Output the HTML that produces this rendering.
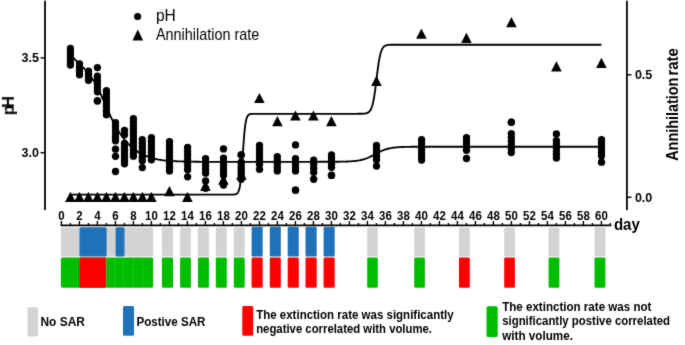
<!DOCTYPE html>
<html><head><meta charset="utf-8"><style>
html,body{margin:0;padding:0;background:#fff;width:685px;height:345px;overflow:hidden}
svg{display:block;will-change:transform}
</style></head><body>
<svg width="685" height="345" viewBox="0 0 685 345">
<defs><filter id="soft" color-interpolation-filters="sRGB" filterUnits="userSpaceOnUse" x="0" y="0" width="685" height="345"><feConvolveMatrix order="3" kernelMatrix="0.01134 0.08382 0.01134 0.08382 0.61935 0.08382 0.01134 0.08382 0.01134" divisor="1" edgeMode="duplicate" preserveAlpha="true"/></filter></defs>
<g filter="url(#soft)">
<rect x="0" y="0" width="685" height="345" fill="#fff"/>
<g stroke="#000" fill="none">
<line x1="45" y1="0.8" x2="45" y2="210" stroke-width="1.8"/>
<line x1="626.9" y1="0.8" x2="626.9" y2="209.9" stroke-width="1.8"/>
<line x1="40.5" y1="57.9" x2="45" y2="57.9" stroke-width="1.4"/>
<line x1="40.5" y1="152.7" x2="45" y2="152.7" stroke-width="1.4"/>
<line x1="627" y1="74.8" x2="631.5" y2="74.8" stroke-width="1.4"/>
<line x1="627" y1="197.3" x2="631.5" y2="197.3" stroke-width="1.4"/>
<line x1="60.6" y1="225.4" x2="611.2" y2="225.4" stroke-width="1.7"/>
<line x1="61.40" y1="221.0" x2="61.40" y2="225.5" stroke-width="1.4"/>
<line x1="70.40" y1="223.0" x2="70.40" y2="225.5" stroke-width="1.4"/>
<line x1="79.40" y1="221.0" x2="79.40" y2="225.5" stroke-width="1.4"/>
<line x1="88.40" y1="223.0" x2="88.40" y2="225.5" stroke-width="1.4"/>
<line x1="97.40" y1="221.0" x2="97.40" y2="225.5" stroke-width="1.4"/>
<line x1="106.40" y1="223.0" x2="106.40" y2="225.5" stroke-width="1.4"/>
<line x1="115.40" y1="221.0" x2="115.40" y2="225.5" stroke-width="1.4"/>
<line x1="124.40" y1="223.0" x2="124.40" y2="225.5" stroke-width="1.4"/>
<line x1="133.40" y1="221.0" x2="133.40" y2="225.5" stroke-width="1.4"/>
<line x1="142.40" y1="223.0" x2="142.40" y2="225.5" stroke-width="1.4"/>
<line x1="151.40" y1="221.0" x2="151.40" y2="225.5" stroke-width="1.4"/>
<line x1="160.40" y1="223.0" x2="160.40" y2="225.5" stroke-width="1.4"/>
<line x1="169.40" y1="221.0" x2="169.40" y2="225.5" stroke-width="1.4"/>
<line x1="178.40" y1="223.0" x2="178.40" y2="225.5" stroke-width="1.4"/>
<line x1="187.40" y1="221.0" x2="187.40" y2="225.5" stroke-width="1.4"/>
<line x1="196.40" y1="223.0" x2="196.40" y2="225.5" stroke-width="1.4"/>
<line x1="205.40" y1="221.0" x2="205.40" y2="225.5" stroke-width="1.4"/>
<line x1="214.40" y1="223.0" x2="214.40" y2="225.5" stroke-width="1.4"/>
<line x1="223.40" y1="221.0" x2="223.40" y2="225.5" stroke-width="1.4"/>
<line x1="232.40" y1="223.0" x2="232.40" y2="225.5" stroke-width="1.4"/>
<line x1="241.40" y1="221.0" x2="241.40" y2="225.5" stroke-width="1.4"/>
<line x1="250.40" y1="223.0" x2="250.40" y2="225.5" stroke-width="1.4"/>
<line x1="259.40" y1="221.0" x2="259.40" y2="225.5" stroke-width="1.4"/>
<line x1="268.40" y1="223.0" x2="268.40" y2="225.5" stroke-width="1.4"/>
<line x1="277.40" y1="221.0" x2="277.40" y2="225.5" stroke-width="1.4"/>
<line x1="286.40" y1="223.0" x2="286.40" y2="225.5" stroke-width="1.4"/>
<line x1="295.40" y1="221.0" x2="295.40" y2="225.5" stroke-width="1.4"/>
<line x1="304.40" y1="223.0" x2="304.40" y2="225.5" stroke-width="1.4"/>
<line x1="313.40" y1="221.0" x2="313.40" y2="225.5" stroke-width="1.4"/>
<line x1="322.40" y1="223.0" x2="322.40" y2="225.5" stroke-width="1.4"/>
<line x1="331.40" y1="221.0" x2="331.40" y2="225.5" stroke-width="1.4"/>
<line x1="340.40" y1="223.0" x2="340.40" y2="225.5" stroke-width="1.4"/>
<line x1="349.40" y1="221.0" x2="349.40" y2="225.5" stroke-width="1.4"/>
<line x1="358.40" y1="223.0" x2="358.40" y2="225.5" stroke-width="1.4"/>
<line x1="367.40" y1="221.0" x2="367.40" y2="225.5" stroke-width="1.4"/>
<line x1="376.40" y1="223.0" x2="376.40" y2="225.5" stroke-width="1.4"/>
<line x1="385.40" y1="221.0" x2="385.40" y2="225.5" stroke-width="1.4"/>
<line x1="394.40" y1="223.0" x2="394.40" y2="225.5" stroke-width="1.4"/>
<line x1="403.40" y1="221.0" x2="403.40" y2="225.5" stroke-width="1.4"/>
<line x1="412.40" y1="223.0" x2="412.40" y2="225.5" stroke-width="1.4"/>
<line x1="421.40" y1="221.0" x2="421.40" y2="225.5" stroke-width="1.4"/>
<line x1="430.40" y1="223.0" x2="430.40" y2="225.5" stroke-width="1.4"/>
<line x1="439.40" y1="221.0" x2="439.40" y2="225.5" stroke-width="1.4"/>
<line x1="448.40" y1="223.0" x2="448.40" y2="225.5" stroke-width="1.4"/>
<line x1="457.40" y1="221.0" x2="457.40" y2="225.5" stroke-width="1.4"/>
<line x1="466.40" y1="223.0" x2="466.40" y2="225.5" stroke-width="1.4"/>
<line x1="475.40" y1="221.0" x2="475.40" y2="225.5" stroke-width="1.4"/>
<line x1="484.40" y1="223.0" x2="484.40" y2="225.5" stroke-width="1.4"/>
<line x1="493.40" y1="221.0" x2="493.40" y2="225.5" stroke-width="1.4"/>
<line x1="502.40" y1="223.0" x2="502.40" y2="225.5" stroke-width="1.4"/>
<line x1="511.40" y1="221.0" x2="511.40" y2="225.5" stroke-width="1.4"/>
<line x1="520.40" y1="223.0" x2="520.40" y2="225.5" stroke-width="1.4"/>
<line x1="529.40" y1="221.0" x2="529.40" y2="225.5" stroke-width="1.4"/>
<line x1="538.40" y1="223.0" x2="538.40" y2="225.5" stroke-width="1.4"/>
<line x1="547.40" y1="221.0" x2="547.40" y2="225.5" stroke-width="1.4"/>
<line x1="556.40" y1="223.0" x2="556.40" y2="225.5" stroke-width="1.4"/>
<line x1="565.40" y1="221.0" x2="565.40" y2="225.5" stroke-width="1.4"/>
<line x1="574.40" y1="223.0" x2="574.40" y2="225.5" stroke-width="1.4"/>
<line x1="583.40" y1="221.0" x2="583.40" y2="225.5" stroke-width="1.4"/>
<line x1="592.40" y1="223.0" x2="592.40" y2="225.5" stroke-width="1.4"/>
<line x1="601.40" y1="221.0" x2="601.40" y2="225.5" stroke-width="1.4"/>
<line x1="610.40" y1="223.0" x2="610.40" y2="225.5" stroke-width="1.4"/>
</g>
<path d="M70.40,53.00 L70.53,53.29 L70.62,53.61 L70.73,53.98 L70.89,54.44 L71.15,54.99 L71.56,55.67 L72.16,56.50 L73.00,57.50 L74.15,58.72 L75.61,60.16 L77.29,61.77 L79.10,63.50 L80.96,65.29 L82.79,67.09 L84.50,68.84 L86.00,70.50 L87.33,72.08 L88.58,73.62 L89.76,75.16 L90.88,76.69 L91.95,78.22 L92.98,79.78 L94.00,81.37 L95.00,83.00 L95.97,84.66 L96.89,86.35 L97.77,88.05 L98.62,89.78 L99.46,91.54 L100.29,93.32 L101.13,95.14 L102.00,97.00 L102.91,98.97 L103.87,101.09 L104.84,103.28 L105.81,105.48 L106.74,107.62 L107.62,109.64 L108.41,111.45 L109.10,113.00 L109.63,114.21 L110.02,115.11 L110.31,115.79 L110.55,116.36 L110.79,116.90 L111.08,117.50 L111.47,118.27 L112.00,119.30 L112.68,120.60 L113.46,122.08 L114.32,123.69 L115.24,125.39 L116.19,127.12 L117.17,128.83 L118.15,130.47 L119.10,132.00 L120.04,133.43 L120.98,134.83 L121.93,136.19 L122.90,137.51 L123.89,138.81 L124.89,140.07 L125.93,141.30 L127.00,142.50 L128.09,143.68 L129.19,144.82 L130.32,145.94 L131.47,147.03 L132.65,148.08 L133.88,149.10 L135.16,150.07 L136.50,151.00 L137.92,151.89 L139.43,152.75 L140.99,153.57 L142.60,154.36 L144.22,155.09 L145.82,155.78 L147.39,156.42 L148.90,157.00 L150.36,157.51 L151.79,157.96 L153.21,158.36 L154.60,158.71 L155.98,159.02 L157.33,159.29 L158.67,159.55 L160.00,159.80 L161.28,160.02 L162.50,160.21 L163.68,160.36 L164.85,160.49 L166.04,160.60 L167.28,160.70 L168.59,160.80 L170.00,160.90 L171.50,161.00 L173.06,161.09 L174.67,161.17 L176.34,161.25 L178.06,161.32 L179.83,161.38 L181.65,161.44 L183.50,161.50 L185.53,161.55 L187.80,161.60 L190.19,161.65 L192.59,161.69 L194.89,161.72 L196.96,161.75 L198.71,161.78 L200.00,161.80 L201.00,161.80 L202.00,161.80 L203.00,161.80 L204.00,161.80 L205.00,161.80 L206.00,161.80 L207.00,161.80 L208.00,161.80 L209.00,161.80 L210.00,161.80 L211.00,161.80 L212.00,161.80 L213.00,161.80 L214.00,161.80 L215.00,161.80 L216.00,161.80 L217.00,161.80 L218.00,161.80 L219.00,161.80 L220.00,161.80 L221.00,161.80 L222.00,161.80 L223.00,161.80 L224.00,161.80 L225.00,161.80 L226.00,161.80 L227.00,161.80 L228.00,161.80 L229.00,161.80 L230.00,161.80 L231.00,161.80 L232.00,161.80 L233.00,161.80 L234.00,161.80 L235.00,161.80 L236.00,161.80 L237.00,161.80 L238.00,161.80 L239.00,161.80 L240.00,161.80 L241.00,161.80 L242.00,161.80 L243.00,161.80 L244.00,161.80 L245.00,161.80 L246.00,161.80 L247.00,161.80 L248.00,161.80 L249.00,161.80 L250.00,161.80 L251.00,161.80 L252.00,161.80 L253.00,161.80 L254.00,161.80 L255.00,161.80 L256.00,161.80 L257.00,161.80 L258.00,161.80 L259.00,161.80 L260.00,161.80 L261.00,161.80 L262.00,161.80 L263.00,161.80 L264.00,161.80 L265.00,161.80 L266.00,161.80 L267.00,161.80 L268.00,161.80 L269.00,161.80 L270.00,161.80 L271.00,161.80 L272.00,161.80 L273.00,161.80 L274.00,161.80 L275.00,161.80 L276.00,161.80 L277.00,161.80 L278.00,161.80 L279.00,161.80 L280.00,161.80 L281.00,161.80 L282.00,161.80 L283.00,161.80 L284.00,161.80 L285.00,161.80 L286.00,161.80 L287.00,161.80 L288.00,161.80 L289.00,161.80 L290.00,161.80 L291.00,161.80 L292.00,161.80 L293.00,161.80 L294.00,161.80 L295.00,161.80 L296.00,161.80 L297.00,161.80 L298.00,161.80 L299.00,161.80 L300.00,161.80 L301.00,161.80 L302.00,161.80 L303.00,161.80 L304.00,161.80 L305.00,161.80 L306.00,161.80 L307.00,161.80 L308.00,161.80 L309.00,161.80 L310.00,161.80 L311.00,161.80 L312.00,161.80 L313.00,161.80 L314.00,161.80 L315.00,161.80 L316.00,161.80 L317.00,161.80 L318.00,161.80 L319.00,161.79 L320.00,161.79 L321.00,161.79 L322.00,161.79 L323.00,161.79 L324.00,161.79 L325.00,161.79 L326.00,161.79 L327.00,161.78 L328.00,161.78 L329.00,161.78 L330.00,161.78 L331.00,161.77 L332.00,161.77 L333.00,161.76 L334.00,161.76 L335.00,161.75 L336.00,161.74 L337.00,161.73 L338.00,161.72 L339.00,161.71 L340.00,161.70 L341.00,161.68 L342.00,161.67 L343.00,161.65 L344.00,161.62 L345.00,161.59 L346.00,161.56 L347.00,161.53 L348.00,161.49 L349.00,161.44 L350.00,161.39 L351.00,161.33 L352.00,161.26 L353.00,161.18 L354.00,161.08 L355.00,160.98 L356.00,160.86 L357.00,160.73 L358.00,160.58 L359.00,160.41 L360.00,160.21 L361.00,160.00 L362.00,159.76 L363.00,159.50 L364.00,159.20 L365.00,158.88 L366.00,158.53 L367.00,158.15 L368.00,157.74 L369.00,157.30 L370.00,156.84 L371.00,156.35 L372.00,155.84 L373.00,155.32 L374.00,154.79 L375.00,154.25 L376.00,153.71 L377.00,153.18 L378.00,152.66 L379.00,152.15 L380.00,151.66 L381.00,151.20 L382.00,150.76 L383.00,150.35 L384.00,149.97 L385.00,149.62 L386.00,149.30 L387.00,149.00 L388.00,148.74 L389.00,148.50 L390.00,148.29 L391.00,148.09 L392.00,147.92 L393.00,147.77 L394.00,147.64 L395.00,147.52 L396.00,147.42 L397.00,147.32 L398.00,147.24 L399.00,147.17 L400.00,147.11 L401.00,147.06 L402.00,147.01 L403.00,146.97 L404.00,146.94 L405.00,146.91 L406.00,146.88 L407.00,146.85 L408.00,146.83 L409.00,146.82 L410.00,146.80 L411.00,146.79 L412.00,146.78 L413.00,146.77 L414.00,146.76 L415.00,146.75 L416.00,146.74 L417.00,146.74 L418.00,146.73 L419.00,146.73 L420.00,146.72 L421.00,146.72 L422.00,146.72 L423.00,146.72 L424.00,146.71 L425.00,146.71 L426.00,146.71 L427.00,146.71 L428.00,146.71 L429.00,146.71 L430.00,146.71 L431.00,146.71 L432.00,146.70 L433.00,146.70 L434.00,146.70 L435.00,146.70 L436.00,146.70 L437.00,146.70 L438.00,146.70 L439.00,146.70 L440.00,146.70 L441.00,146.70 L442.00,146.70 L443.00,146.70 L444.00,146.70 L445.00,146.70 L446.00,146.70 L447.00,146.70 L448.00,146.70 L449.00,146.70 L450.00,146.70 L451.00,146.70 L452.00,146.70 L453.00,146.70 L454.00,146.70 L455.00,146.70 L456.00,146.70 L457.00,146.70 L458.00,146.70 L459.00,146.70 L460.00,146.70 L461.00,146.70 L462.00,146.70 L463.00,146.70 L464.00,146.70 L465.00,146.70 L466.00,146.70 L467.00,146.70 L468.00,146.70 L469.00,146.70 L470.00,146.70 L471.00,146.70 L472.00,146.70 L473.00,146.70 L474.00,146.70 L475.00,146.70 L476.00,146.70 L477.00,146.70 L478.00,146.70 L479.00,146.70 L480.00,146.70 L481.00,146.70 L482.00,146.70 L483.00,146.70 L484.00,146.70 L485.00,146.70 L486.00,146.70 L487.00,146.70 L488.00,146.70 L489.00,146.70 L490.00,146.70 L491.00,146.70 L492.00,146.70 L493.00,146.70 L494.00,146.70 L495.00,146.70 L496.00,146.70 L497.00,146.70 L498.00,146.70 L499.00,146.70 L500.00,146.70 L501.00,146.70 L502.00,146.70 L503.00,146.70 L504.00,146.70 L505.00,146.70 L506.00,146.70 L507.00,146.70 L508.00,146.70 L509.00,146.70 L510.00,146.70 L511.00,146.70 L512.00,146.70 L513.00,146.70 L514.00,146.70 L515.00,146.70 L516.00,146.70 L517.00,146.70 L518.00,146.70 L519.00,146.70 L520.00,146.70 L521.00,146.70 L522.00,146.70 L523.00,146.70 L524.00,146.70 L525.00,146.70 L526.00,146.70 L527.00,146.70 L528.00,146.70 L529.00,146.70 L530.00,146.70 L531.00,146.70 L532.00,146.70 L533.00,146.70 L534.00,146.70 L535.00,146.70 L536.00,146.70 L537.00,146.70 L538.00,146.70 L539.00,146.70 L540.00,146.70 L541.00,146.70 L542.00,146.70 L543.00,146.70 L544.00,146.70 L545.00,146.70 L546.00,146.70 L547.00,146.70 L548.00,146.70 L549.00,146.70 L550.00,146.70 L551.00,146.70 L552.00,146.70 L553.00,146.70 L554.00,146.70 L555.00,146.70 L556.00,146.70 L557.00,146.70 L558.00,146.70 L559.00,146.70 L560.00,146.70 L561.00,146.70 L562.00,146.70 L563.00,146.70 L564.00,146.70 L565.00,146.70 L566.00,146.70 L567.00,146.70 L568.00,146.70 L569.00,146.70 L570.00,146.70 L571.00,146.70 L572.00,146.70 L573.00,146.70 L574.00,146.70 L575.00,146.70 L576.00,146.70 L577.00,146.70 L578.00,146.70 L579.00,146.70 L580.00,146.70 L581.00,146.70 L582.00,146.70 L583.00,146.70 L584.00,146.70 L585.00,146.70 L586.00,146.70 L587.00,146.70 L588.00,146.70 L589.00,146.70 L590.00,146.70 L591.00,146.70 L592.00,146.70 L593.00,146.70 L594.00,146.70 L595.00,146.70 L596.00,146.70 L597.00,146.70 L598.00,146.70 L599.00,146.70 L600.00,146.70 L601.00,146.70 L601.40,146.70" stroke="#000" stroke-width="1.85" fill="none" stroke-linejoin="round"/>
<path d="M70.40,194.60 L72.40,194.60 L74.40,194.60 L76.40,194.60 L78.40,194.60 L80.40,194.60 L82.40,194.60 L84.40,194.60 L86.40,194.60 L88.40,194.60 L90.40,194.60 L92.40,194.60 L94.40,194.60 L96.40,194.60 L98.40,194.60 L100.40,194.60 L102.40,194.60 L104.40,194.60 L106.40,194.60 L108.40,194.60 L110.40,194.60 L112.40,194.60 L114.40,194.60 L116.40,194.60 L118.40,194.60 L120.40,194.60 L122.40,194.60 L124.40,194.60 L126.40,194.60 L128.40,194.60 L130.40,194.60 L132.40,194.60 L134.40,194.60 L136.40,194.60 L138.40,194.60 L140.40,194.60 L142.40,194.60 L144.40,194.60 L146.40,194.60 L148.40,194.60 L150.40,194.60 L152.40,194.60 L154.40,194.60 L156.40,194.60 L158.40,194.60 L160.40,194.60 L162.40,194.60 L164.40,194.60 L166.40,194.60 L168.40,194.60 L170.40,194.60 L172.40,194.60 L174.40,194.60 L176.40,194.60 L178.40,194.60 L180.40,194.60 L182.40,194.60 L184.40,194.60 L186.40,194.60 L188.40,194.60 L190.40,194.60 L192.40,194.60 L194.40,194.60 L196.40,194.60 L198.40,194.60 L200.40,194.60 L202.40,194.60 L204.40,194.60 L206.40,194.60 L208.40,194.60 L210.40,194.60 L212.40,194.60 L214.40,194.60 L216.40,194.60 L218.40,194.60 L220.40,194.60 L222.40,194.60 L224.40,194.60 L226.40,194.60 L228.40,194.60 L230.40,194.59 L230.90,194.59 L231.40,194.58 L231.90,194.57 L232.40,194.56 L232.90,194.55 L233.40,194.52 L233.90,194.49 L234.40,194.44 L234.90,194.37 L235.40,194.27 L235.90,194.12 L236.40,193.90 L236.90,193.59 L237.40,193.15 L237.90,192.51 L238.40,191.61 L238.90,190.34 L239.40,188.57 L239.90,186.16 L240.40,182.92 L240.90,178.71 L241.40,173.45 L241.90,167.19 L242.40,160.14 L242.90,152.70 L243.40,145.37 L243.90,138.59 L244.40,132.72 L244.90,127.88 L245.40,124.08 L245.90,121.19 L246.40,119.05 L246.90,117.50 L247.40,116.39 L247.90,115.61 L248.40,115.06 L248.90,114.67 L249.40,114.40 L249.90,114.22 L250.40,114.09 L250.90,114.00 L251.40,113.94 L251.90,113.90 L252.40,113.87 L252.90,113.85 L253.40,113.83 L253.90,113.82 L254.40,113.81 L254.90,113.81 L255.40,113.81 L255.90,113.80 L256.40,113.80 L256.90,113.80 L257.40,113.80 L257.90,113.80 L258.40,113.80 L258.90,113.80 L259.40,113.80 L259.90,113.80 L260.40,113.80 L262.40,113.80 L264.40,113.80 L266.40,113.80 L268.40,113.80 L270.40,113.80 L272.40,113.80 L274.40,113.80 L276.40,113.80 L278.40,113.80 L280.40,113.80 L282.40,113.80 L284.40,113.80 L286.40,113.80 L288.40,113.80 L290.40,113.80 L292.40,113.80 L294.40,113.80 L296.40,113.80 L298.40,113.80 L300.40,113.80 L302.40,113.80 L304.40,113.80 L306.40,113.80 L308.40,113.80 L310.40,113.80 L312.40,113.80 L314.40,113.80 L316.40,113.80 L318.40,113.80 L320.40,113.80 L322.40,113.80 L324.40,113.80 L326.40,113.80 L328.40,113.80 L330.40,113.80 L332.40,113.80 L334.40,113.80 L336.40,113.80 L338.40,113.80 L340.40,113.80 L342.40,113.80 L344.40,113.80 L346.40,113.80 L348.40,113.80 L350.40,113.80 L352.40,113.80 L354.40,113.80 L356.40,113.80 L358.40,113.79 L360.40,113.77 L360.90,113.76 L361.40,113.75 L361.90,113.73 L362.40,113.72 L362.90,113.69 L363.40,113.67 L363.90,113.63 L364.40,113.58 L364.90,113.53 L365.40,113.45 L365.90,113.36 L366.40,113.24 L366.90,113.09 L367.40,112.90 L367.90,112.67 L368.40,112.37 L368.90,112.00 L369.40,111.53 L369.90,110.94 L370.40,110.21 L370.90,109.31 L371.40,108.20 L371.90,106.85 L372.40,105.21 L372.90,103.25 L373.40,100.95 L373.90,98.27 L374.40,95.22 L374.90,91.81 L375.40,88.10 L375.90,84.15 L376.40,80.07 L376.90,75.97 L377.40,71.96 L377.90,68.14 L378.40,64.61 L378.90,61.41 L379.40,58.58 L379.90,56.12 L380.40,54.03 L380.90,52.27 L381.40,50.81 L381.90,49.61 L382.40,48.63 L382.90,47.83 L383.40,47.19 L383.90,46.68 L384.40,46.27 L384.90,45.94 L385.40,45.68 L385.90,45.48 L386.40,45.31 L386.90,45.18 L387.40,45.08 L387.90,45.00 L388.40,44.94 L388.90,44.89 L389.40,44.85 L389.90,44.82 L390.40,44.79 L390.90,44.77 L391.40,44.76 L391.90,44.75 L392.40,44.74 L392.90,44.73 L393.40,44.72 L393.90,44.72 L394.40,44.71 L394.90,44.71 L395.40,44.71 L395.90,44.71 L396.40,44.71 L396.90,44.70 L397.40,44.70 L397.90,44.70 L398.40,44.70 L398.90,44.70 L399.40,44.70 L399.90,44.70 L400.40,44.70 L402.40,44.70 L404.40,44.70 L406.40,44.70 L408.40,44.70 L410.40,44.70 L412.40,44.70 L414.40,44.70 L416.40,44.70 L418.40,44.70 L420.40,44.70 L422.40,44.70 L424.40,44.70 L426.40,44.70 L428.40,44.70 L430.40,44.70 L432.40,44.70 L434.40,44.70 L436.40,44.70 L438.40,44.70 L440.40,44.70 L442.40,44.70 L444.40,44.70 L446.40,44.70 L448.40,44.70 L450.40,44.70 L452.40,44.70 L454.40,44.70 L456.40,44.70 L458.40,44.70 L460.40,44.70 L462.40,44.70 L464.40,44.70 L466.40,44.70 L468.40,44.70 L470.40,44.70 L472.40,44.70 L474.40,44.70 L476.40,44.70 L478.40,44.70 L480.40,44.70 L482.40,44.70 L484.40,44.70 L486.40,44.70 L488.40,44.70 L490.40,44.70 L492.40,44.70 L494.40,44.70 L496.40,44.70 L498.40,44.70 L500.40,44.70 L502.40,44.70 L504.40,44.70 L506.40,44.70 L508.40,44.70 L510.40,44.70 L512.40,44.70 L514.40,44.70 L516.40,44.70 L518.40,44.70 L520.40,44.70 L522.40,44.70 L524.40,44.70 L526.40,44.70 L528.40,44.70 L530.40,44.70 L532.40,44.70 L534.40,44.70 L536.40,44.70 L538.40,44.70 L540.40,44.70 L542.40,44.70 L544.40,44.70 L546.40,44.70 L548.40,44.70 L550.40,44.70 L552.40,44.70 L554.40,44.70 L556.40,44.70 L558.40,44.70 L560.40,44.70 L562.40,44.70 L564.40,44.70 L566.40,44.70 L568.40,44.70 L570.40,44.70 L572.40,44.70 L574.40,44.70 L576.40,44.70 L578.40,44.70 L580.40,44.70 L582.40,44.70 L584.40,44.70 L586.40,44.70 L588.40,44.70 L590.40,44.70 L592.40,44.70 L594.40,44.70 L596.40,44.70 L598.40,44.70 L600.40,44.70 L601.40,44.70" stroke="#000" stroke-width="1.85" fill="none" stroke-linejoin="round"/>
<g fill="#000">
<path d="M70.40,191.75 L75.70,201.95 L65.10,201.95Z"/>
<path d="M79.40,191.75 L84.70,201.95 L74.10,201.95Z"/>
<path d="M88.40,191.75 L93.70,201.95 L83.10,201.95Z"/>
<path d="M97.40,191.75 L102.70,201.95 L92.10,201.95Z"/>
<path d="M106.40,191.75 L111.70,201.95 L101.10,201.95Z"/>
<path d="M115.40,191.75 L120.70,201.95 L110.10,201.95Z"/>
<path d="M124.40,191.75 L129.70,201.95 L119.10,201.95Z"/>
<path d="M133.40,191.75 L138.70,201.95 L128.10,201.95Z"/>
<path d="M142.40,191.75 L147.70,201.95 L137.10,201.95Z"/>
<path d="M151.40,191.75 L156.70,201.95 L146.10,201.95Z"/>
<path d="M169.40,186.00 L174.70,196.20 L164.10,196.20Z"/>
<path d="M187.40,191.85 L192.70,202.05 L182.10,202.05Z"/>
<path d="M205.40,180.85 L210.70,191.05 L200.10,191.05Z"/>
<path d="M223.40,174.55 L228.70,184.75 L218.10,184.75Z"/>
<path d="M241.40,169.60 L246.70,179.80 L236.10,179.80Z"/>
<path d="M259.40,92.90 L264.70,103.10 L254.10,103.10Z"/>
<path d="M277.40,116.10 L282.70,126.30 L272.10,126.30Z"/>
<path d="M295.40,110.40 L300.70,120.60 L290.10,120.60Z"/>
<path d="M313.40,110.40 L318.70,120.60 L308.10,120.60Z"/>
<path d="M331.40,116.10 L336.70,126.30 L326.10,126.30Z"/>
<path d="M376.40,75.80 L381.70,86.00 L371.10,86.00Z"/>
<path d="M421.40,28.60 L426.70,38.80 L416.10,38.80Z"/>
<path d="M466.40,32.80 L471.70,43.00 L461.10,43.00Z"/>
<path d="M511.40,17.10 L516.70,27.30 L506.10,27.30Z"/>
<path d="M556.40,61.30 L561.70,71.50 L551.10,71.50Z"/>
<path d="M601.40,57.70 L606.70,67.90 L596.10,67.90Z"/>
</g>
<g fill="#000">
<circle cx="70.40" cy="48.45" r="3.65"/>
<circle cx="70.40" cy="51.77" r="3.65"/>
<circle cx="70.40" cy="55.09" r="3.65"/>
<circle cx="70.40" cy="58.41" r="3.65"/>
<circle cx="70.40" cy="61.73" r="3.65"/>
<circle cx="70.40" cy="65.05" r="3.65"/>
<circle cx="79.50" cy="63.85" r="3.65"/>
<circle cx="79.50" cy="67.52" r="3.65"/>
<circle cx="79.50" cy="71.18" r="3.65"/>
<circle cx="79.50" cy="74.85" r="3.65"/>
<circle cx="88.50" cy="71.15" r="3.65"/>
<circle cx="88.50" cy="74.22" r="3.65"/>
<circle cx="88.50" cy="77.28" r="3.65"/>
<circle cx="88.50" cy="80.35" r="3.65"/>
<circle cx="97.40" cy="67.60" r="3.65"/>
<circle cx="97.40" cy="76.25" r="3.65"/>
<circle cx="97.40" cy="80.15" r="3.65"/>
<circle cx="97.40" cy="84.05" r="3.65"/>
<circle cx="97.40" cy="87.95" r="3.65"/>
<circle cx="97.40" cy="91.85" r="3.65"/>
<circle cx="97.40" cy="100.85" r="3.65"/>
<circle cx="97.40" cy="100.95" r="3.65"/>
<circle cx="106.40" cy="90.65" r="3.65"/>
<circle cx="106.40" cy="94.08" r="3.65"/>
<circle cx="106.40" cy="97.51" r="3.65"/>
<circle cx="106.40" cy="100.94" r="3.65"/>
<circle cx="106.40" cy="104.36" r="3.65"/>
<circle cx="106.40" cy="107.79" r="3.65"/>
<circle cx="106.40" cy="111.22" r="3.65"/>
<circle cx="106.40" cy="114.65" r="3.65"/>
<circle cx="115.50" cy="122.75" r="3.65"/>
<circle cx="115.50" cy="126.35" r="3.65"/>
<circle cx="115.50" cy="129.95" r="3.65"/>
<circle cx="115.50" cy="133.55" r="3.65"/>
<circle cx="115.50" cy="137.15" r="3.65"/>
<circle cx="115.50" cy="140.75" r="3.65"/>
<circle cx="115.50" cy="149.20" r="3.65"/>
<circle cx="115.50" cy="156.30" r="3.65"/>
<circle cx="115.50" cy="171.50" r="3.65"/>
<circle cx="124.50" cy="130.35" r="3.65"/>
<circle cx="124.50" cy="134.65" r="3.65"/>
<circle cx="124.50" cy="143.45" r="3.65"/>
<circle cx="124.50" cy="146.83" r="3.65"/>
<circle cx="124.50" cy="150.22" r="3.65"/>
<circle cx="124.50" cy="153.60" r="3.65"/>
<circle cx="124.50" cy="156.98" r="3.65"/>
<circle cx="124.50" cy="160.37" r="3.65"/>
<circle cx="124.50" cy="163.75" r="3.65"/>
<circle cx="133.40" cy="118.65" r="3.65"/>
<circle cx="133.40" cy="122.06" r="3.65"/>
<circle cx="133.40" cy="125.47" r="3.65"/>
<circle cx="133.40" cy="128.88" r="3.65"/>
<circle cx="133.40" cy="132.29" r="3.65"/>
<circle cx="133.40" cy="135.70" r="3.65"/>
<circle cx="133.40" cy="139.10" r="3.65"/>
<circle cx="133.40" cy="142.51" r="3.65"/>
<circle cx="133.40" cy="145.92" r="3.65"/>
<circle cx="133.40" cy="149.33" r="3.65"/>
<circle cx="133.40" cy="152.74" r="3.65"/>
<circle cx="133.40" cy="156.15" r="3.65"/>
<circle cx="142.30" cy="139.55" r="3.65"/>
<circle cx="142.30" cy="143.10" r="3.65"/>
<circle cx="142.30" cy="146.65" r="3.65"/>
<circle cx="142.30" cy="150.20" r="3.65"/>
<circle cx="142.30" cy="153.75" r="3.65"/>
<circle cx="142.30" cy="157.30" r="3.65"/>
<circle cx="142.30" cy="160.85" r="3.65"/>
<circle cx="142.30" cy="167.60" r="3.65"/>
<circle cx="151.40" cy="137.65" r="3.65"/>
<circle cx="151.40" cy="141.33" r="3.65"/>
<circle cx="151.40" cy="145.02" r="3.65"/>
<circle cx="151.40" cy="148.70" r="3.65"/>
<circle cx="151.40" cy="152.38" r="3.65"/>
<circle cx="151.40" cy="156.07" r="3.65"/>
<circle cx="151.40" cy="159.75" r="3.65"/>
<circle cx="169.50" cy="141.65" r="3.65"/>
<circle cx="169.50" cy="145.31" r="3.65"/>
<circle cx="169.50" cy="148.97" r="3.65"/>
<circle cx="169.50" cy="152.64" r="3.65"/>
<circle cx="169.50" cy="156.30" r="3.65"/>
<circle cx="169.50" cy="159.96" r="3.65"/>
<circle cx="169.50" cy="163.62" r="3.65"/>
<circle cx="169.50" cy="167.29" r="3.65"/>
<circle cx="169.50" cy="170.95" r="3.65"/>
<circle cx="187.60" cy="147.45" r="3.65"/>
<circle cx="187.60" cy="151.18" r="3.65"/>
<circle cx="187.60" cy="154.92" r="3.65"/>
<circle cx="187.60" cy="158.65" r="3.65"/>
<circle cx="187.60" cy="162.38" r="3.65"/>
<circle cx="187.60" cy="166.12" r="3.65"/>
<circle cx="187.60" cy="169.85" r="3.65"/>
<circle cx="187.60" cy="176.80" r="3.65"/>
<circle cx="205.60" cy="158.65" r="3.65"/>
<circle cx="205.60" cy="162.28" r="3.65"/>
<circle cx="205.60" cy="165.90" r="3.65"/>
<circle cx="205.60" cy="169.53" r="3.65"/>
<circle cx="205.60" cy="173.15" r="3.65"/>
<circle cx="205.60" cy="180.90" r="3.65"/>
<circle cx="205.60" cy="188.30" r="3.65"/>
<circle cx="223.50" cy="148.95" r="3.65"/>
<circle cx="223.50" cy="158.05" r="3.65"/>
<circle cx="223.50" cy="161.51" r="3.65"/>
<circle cx="223.50" cy="164.97" r="3.65"/>
<circle cx="223.50" cy="168.43" r="3.65"/>
<circle cx="223.50" cy="171.89" r="3.65"/>
<circle cx="223.50" cy="175.35" r="3.65"/>
<circle cx="223.50" cy="185.10" r="3.65"/>
<circle cx="241.20" cy="154.85" r="3.65"/>
<circle cx="241.20" cy="154.95" r="3.65"/>
<circle cx="241.20" cy="162.05" r="3.65"/>
<circle cx="241.20" cy="165.12" r="3.65"/>
<circle cx="241.20" cy="168.20" r="3.65"/>
<circle cx="241.20" cy="171.28" r="3.65"/>
<circle cx="241.20" cy="174.35" r="3.65"/>
<circle cx="241.20" cy="179.15" r="3.65"/>
<circle cx="259.50" cy="145.35" r="3.65"/>
<circle cx="259.50" cy="149.15" r="3.65"/>
<circle cx="259.50" cy="152.95" r="3.65"/>
<circle cx="259.50" cy="156.75" r="3.65"/>
<circle cx="259.50" cy="160.55" r="3.65"/>
<circle cx="259.50" cy="164.35" r="3.65"/>
<circle cx="259.50" cy="169.30" r="3.65"/>
<circle cx="277.30" cy="156.65" r="3.65"/>
<circle cx="277.30" cy="160.22" r="3.65"/>
<circle cx="277.30" cy="163.80" r="3.65"/>
<circle cx="277.30" cy="167.38" r="3.65"/>
<circle cx="277.30" cy="170.95" r="3.65"/>
<circle cx="295.50" cy="144.95" r="3.65"/>
<circle cx="295.50" cy="158.65" r="3.65"/>
<circle cx="295.50" cy="161.72" r="3.65"/>
<circle cx="295.50" cy="164.80" r="3.65"/>
<circle cx="295.50" cy="167.88" r="3.65"/>
<circle cx="295.50" cy="170.95" r="3.65"/>
<circle cx="295.50" cy="190.05" r="3.65"/>
<circle cx="295.50" cy="190.15" r="3.65"/>
<circle cx="313.70" cy="160.25" r="3.65"/>
<circle cx="313.70" cy="164.28" r="3.65"/>
<circle cx="313.70" cy="168.32" r="3.65"/>
<circle cx="313.70" cy="172.35" r="3.65"/>
<circle cx="313.70" cy="179.25" r="3.65"/>
<circle cx="331.50" cy="154.95" r="3.65"/>
<circle cx="331.50" cy="158.05" r="3.65"/>
<circle cx="331.50" cy="161.15" r="3.65"/>
<circle cx="331.50" cy="164.25" r="3.65"/>
<circle cx="331.50" cy="167.35" r="3.65"/>
<circle cx="331.50" cy="175.15" r="3.65"/>
<circle cx="331.50" cy="175.45" r="3.65"/>
<circle cx="376.50" cy="145.35" r="3.65"/>
<circle cx="376.50" cy="148.97" r="3.65"/>
<circle cx="376.50" cy="152.60" r="3.65"/>
<circle cx="376.50" cy="156.22" r="3.65"/>
<circle cx="376.50" cy="159.85" r="3.65"/>
<circle cx="376.50" cy="166.05" r="3.65"/>
<circle cx="421.60" cy="139.65" r="3.65"/>
<circle cx="421.60" cy="143.05" r="3.65"/>
<circle cx="421.60" cy="146.45" r="3.65"/>
<circle cx="421.60" cy="149.85" r="3.65"/>
<circle cx="421.60" cy="153.25" r="3.65"/>
<circle cx="421.60" cy="156.65" r="3.65"/>
<circle cx="421.60" cy="160.05" r="3.65"/>
<circle cx="466.50" cy="137.55" r="3.65"/>
<circle cx="466.50" cy="140.73" r="3.65"/>
<circle cx="466.50" cy="143.90" r="3.65"/>
<circle cx="466.50" cy="147.07" r="3.65"/>
<circle cx="466.50" cy="150.25" r="3.65"/>
<circle cx="466.50" cy="158.50" r="3.65"/>
<circle cx="511.30" cy="122.15" r="3.65"/>
<circle cx="511.30" cy="122.25" r="3.65"/>
<circle cx="511.30" cy="133.55" r="3.65"/>
<circle cx="511.30" cy="137.35" r="3.65"/>
<circle cx="511.30" cy="141.15" r="3.65"/>
<circle cx="511.30" cy="144.95" r="3.65"/>
<circle cx="511.30" cy="148.75" r="3.65"/>
<circle cx="511.30" cy="152.55" r="3.65"/>
<circle cx="556.40" cy="133.95" r="3.65"/>
<circle cx="556.40" cy="140.55" r="3.65"/>
<circle cx="556.40" cy="144.03" r="3.65"/>
<circle cx="556.40" cy="147.51" r="3.65"/>
<circle cx="556.40" cy="150.99" r="3.65"/>
<circle cx="556.40" cy="154.47" r="3.65"/>
<circle cx="556.40" cy="157.95" r="3.65"/>
<circle cx="601.50" cy="139.55" r="3.65"/>
<circle cx="601.50" cy="142.77" r="3.65"/>
<circle cx="601.50" cy="145.99" r="3.65"/>
<circle cx="601.50" cy="149.21" r="3.65"/>
<circle cx="601.50" cy="152.43" r="3.65"/>
<circle cx="601.50" cy="155.65" r="3.65"/>
<circle cx="601.50" cy="162.20" r="3.65"/>
</g>
<circle cx="137.6" cy="16.5" r="3.6" fill="#000"/>
<path d="M137.8,29.6 L143.1,40.4 L132.5,40.4Z" fill="#000"/>
<text x="155.9" y="20.7" font-family="'Liberation Sans', sans-serif" font-size="15.8" textLength="19.9" lengthAdjust="spacingAndGlyphs">pH</text>
<text x="156.0" y="39.8" font-family="'Liberation Sans', sans-serif" font-size="16.2" textLength="103.2" lengthAdjust="spacingAndGlyphs">Annihilation rate</text>
<g font-family="'Liberation Sans', sans-serif" font-size="12.5" font-weight="bold">
<text x="38.9" y="62" text-anchor="end">3.5</text>
<text x="38.9" y="156.7" text-anchor="end">3.0</text>
<text x="634.9" y="78.9">0.5</text>
<text x="634.9" y="201.5">0.0</text>
</g>
<g font-family="'Liberation Sans', sans-serif" font-size="12" font-weight="bold" text-anchor="middle">
<text x="61.40" y="219.8" textLength="6.37" lengthAdjust="spacingAndGlyphs">0</text>
<text x="79.40" y="219.8" textLength="6.37" lengthAdjust="spacingAndGlyphs">2</text>
<text x="97.40" y="219.8" textLength="6.37" lengthAdjust="spacingAndGlyphs">4</text>
<text x="115.40" y="219.8" textLength="6.37" lengthAdjust="spacingAndGlyphs">6</text>
<text x="133.40" y="219.8" textLength="6.37" lengthAdjust="spacingAndGlyphs">8</text>
<text x="151.40" y="219.8" textLength="12.75" lengthAdjust="spacingAndGlyphs">10</text>
<text x="169.40" y="219.8" textLength="12.75" lengthAdjust="spacingAndGlyphs">12</text>
<text x="187.40" y="219.8" textLength="12.75" lengthAdjust="spacingAndGlyphs">14</text>
<text x="205.40" y="219.8" textLength="12.75" lengthAdjust="spacingAndGlyphs">16</text>
<text x="223.40" y="219.8" textLength="12.75" lengthAdjust="spacingAndGlyphs">18</text>
<text x="241.40" y="219.8" textLength="12.75" lengthAdjust="spacingAndGlyphs">20</text>
<text x="259.40" y="219.8" textLength="12.75" lengthAdjust="spacingAndGlyphs">22</text>
<text x="277.40" y="219.8" textLength="12.75" lengthAdjust="spacingAndGlyphs">24</text>
<text x="295.40" y="219.8" textLength="12.75" lengthAdjust="spacingAndGlyphs">26</text>
<text x="313.40" y="219.8" textLength="12.75" lengthAdjust="spacingAndGlyphs">28</text>
<text x="331.40" y="219.8" textLength="12.75" lengthAdjust="spacingAndGlyphs">30</text>
<text x="349.40" y="219.8" textLength="12.75" lengthAdjust="spacingAndGlyphs">32</text>
<text x="367.40" y="219.8" textLength="12.75" lengthAdjust="spacingAndGlyphs">34</text>
<text x="385.40" y="219.8" textLength="12.75" lengthAdjust="spacingAndGlyphs">36</text>
<text x="403.40" y="219.8" textLength="12.75" lengthAdjust="spacingAndGlyphs">38</text>
<text x="421.40" y="219.8" textLength="12.75" lengthAdjust="spacingAndGlyphs">40</text>
<text x="439.40" y="219.8" textLength="12.75" lengthAdjust="spacingAndGlyphs">42</text>
<text x="457.40" y="219.8" textLength="12.75" lengthAdjust="spacingAndGlyphs">44</text>
<text x="475.40" y="219.8" textLength="12.75" lengthAdjust="spacingAndGlyphs">46</text>
<text x="493.40" y="219.8" textLength="12.75" lengthAdjust="spacingAndGlyphs">48</text>
<text x="511.40" y="219.8" textLength="12.75" lengthAdjust="spacingAndGlyphs">50</text>
<text x="529.40" y="219.8" textLength="12.75" lengthAdjust="spacingAndGlyphs">52</text>
<text x="547.40" y="219.8" textLength="12.75" lengthAdjust="spacingAndGlyphs">54</text>
<text x="565.40" y="219.8" textLength="12.75" lengthAdjust="spacingAndGlyphs">56</text>
<text x="583.40" y="219.8" textLength="12.75" lengthAdjust="spacingAndGlyphs">58</text>
<text x="601.40" y="219.8" textLength="12.75" lengthAdjust="spacingAndGlyphs">60</text>
</g>
<text x="613.9" y="229.9" font-family="'Liberation Sans', sans-serif" font-size="15.9" font-weight="bold" textLength="26.0" lengthAdjust="spacingAndGlyphs">day</text>
<text transform="translate(13.9,115.2) rotate(-90)" font-family="'Liberation Sans', sans-serif" font-size="16.5" font-weight="bold" textLength="19.1" lengthAdjust="spacing">pH</text>
<text transform="translate(678.4,160.8) rotate(-90)" font-family="'Liberation Sans', sans-serif" font-size="16.6" font-weight="bold" textLength="83.2" lengthAdjust="spacingAndGlyphs">Annihilation</text>
<text transform="translate(678.4,75.6) rotate(-90)" font-family="'Liberation Sans', sans-serif" font-size="16.6" font-weight="bold" textLength="27.5" lengthAdjust="spacingAndGlyphs">rate</text>
<rect x="60.90" y="227.50" width="92.30" height="28.90" rx="1.2" ry="1.2" fill="#d3d3d3"/>
<rect x="79.50" y="227.30" width="27.10" height="29.30" rx="1.5" ry="1.5" fill="#1f72b9"/>
<rect x="115.60" y="227.30" width="8.90" height="29.30" rx="1.5" ry="1.5" fill="#1f72b9"/>
<rect x="60.90" y="257.40" width="92.30" height="30.30" rx="1.6" ry="1.6" fill="#00bd00"/>
<rect x="79.60" y="257.40" width="26.50" height="30.30" rx="1.2" ry="1.2" fill="#ff0000"/>
<line x1="106.4" y1="257.4" x2="106.4" y2="287.7" stroke="#fff" stroke-opacity="0.35" stroke-width="0.6"/>
<line x1="114.4" y1="257.4" x2="114.4" y2="287.7" stroke="#fff" stroke-opacity="0.2" stroke-width="0.6"/>
<line x1="123.6" y1="257.4" x2="123.6" y2="287.7" stroke="#fff" stroke-opacity="0.2" stroke-width="0.6"/>
<line x1="133.6" y1="257.4" x2="133.6" y2="287.7" stroke="#fff" stroke-opacity="0.2" stroke-width="0.6"/>
<line x1="142.4" y1="257.4" x2="142.4" y2="287.7" stroke="#fff" stroke-opacity="0.2" stroke-width="0.6"/>
<rect x="161.90" y="227.50" width="11.10" height="28.90" rx="1.2" ry="1.2" fill="#d3d3d3"/>
<rect x="161.90" y="257.40" width="11.10" height="30.30" rx="1.3" ry="1.3" fill="#00bd00"/>
<rect x="180.10" y="227.50" width="10.80" height="28.90" rx="1.2" ry="1.2" fill="#d3d3d3"/>
<rect x="180.10" y="257.40" width="10.80" height="30.30" rx="1.3" ry="1.3" fill="#00bd00"/>
<rect x="197.90" y="227.50" width="11.00" height="28.90" rx="1.2" ry="1.2" fill="#d3d3d3"/>
<rect x="197.90" y="257.40" width="11.00" height="30.30" rx="1.3" ry="1.3" fill="#00bd00"/>
<rect x="215.80" y="227.50" width="11.00" height="28.90" rx="1.2" ry="1.2" fill="#d3d3d3"/>
<rect x="215.80" y="257.40" width="11.00" height="30.30" rx="1.3" ry="1.3" fill="#00bd00"/>
<rect x="233.80" y="227.50" width="10.90" height="28.90" rx="1.2" ry="1.2" fill="#d3d3d3"/>
<rect x="233.80" y="257.40" width="10.90" height="30.30" rx="1.3" ry="1.3" fill="#00bd00"/>
<rect x="251.60" y="226.80" width="11.10" height="29.60" rx="1.2" ry="1.2" fill="#1f72b9"/>
<rect x="251.60" y="257.40" width="11.10" height="30.30" rx="1.3" ry="1.3" fill="#ff0000"/>
<rect x="269.80" y="226.80" width="11.00" height="29.60" rx="1.2" ry="1.2" fill="#1f72b9"/>
<rect x="269.80" y="257.40" width="11.00" height="30.30" rx="1.3" ry="1.3" fill="#ff0000"/>
<rect x="287.70" y="226.80" width="11.10" height="29.60" rx="1.2" ry="1.2" fill="#1f72b9"/>
<rect x="287.70" y="257.40" width="11.10" height="30.30" rx="1.3" ry="1.3" fill="#ff0000"/>
<rect x="305.50" y="226.80" width="11.20" height="29.60" rx="1.2" ry="1.2" fill="#1f72b9"/>
<rect x="305.50" y="257.40" width="11.20" height="30.30" rx="1.3" ry="1.3" fill="#ff0000"/>
<rect x="323.60" y="226.80" width="11.10" height="29.60" rx="1.2" ry="1.2" fill="#1f72b9"/>
<rect x="323.60" y="257.40" width="11.10" height="30.30" rx="1.3" ry="1.3" fill="#ff0000"/>
<rect x="367.20" y="227.50" width="10.60" height="28.90" rx="1.2" ry="1.2" fill="#d3d3d3"/>
<rect x="367.20" y="257.40" width="10.60" height="30.30" rx="1.3" ry="1.3" fill="#00bd00"/>
<rect x="414.20" y="227.50" width="10.70" height="28.90" rx="1.2" ry="1.2" fill="#d3d3d3"/>
<rect x="414.20" y="257.40" width="10.70" height="30.30" rx="1.3" ry="1.3" fill="#00bd00"/>
<rect x="459.00" y="227.50" width="10.80" height="28.90" rx="1.2" ry="1.2" fill="#d3d3d3"/>
<rect x="459.00" y="257.40" width="10.80" height="30.30" rx="1.3" ry="1.3" fill="#ff0000"/>
<rect x="504.20" y="227.50" width="10.70" height="28.90" rx="1.2" ry="1.2" fill="#d3d3d3"/>
<rect x="504.20" y="257.40" width="10.70" height="30.30" rx="1.3" ry="1.3" fill="#ff0000"/>
<rect x="548.60" y="227.50" width="10.80" height="28.90" rx="1.2" ry="1.2" fill="#d3d3d3"/>
<rect x="548.60" y="257.40" width="10.80" height="30.30" rx="1.3" ry="1.3" fill="#00bd00"/>
<rect x="594.50" y="227.50" width="10.90" height="28.90" rx="1.2" ry="1.2" fill="#d3d3d3"/>
<rect x="594.50" y="257.40" width="10.90" height="30.30" rx="1.3" ry="1.3" fill="#00bd00"/>
<rect x="27.60" y="307.20" width="10.40" height="29.30" rx="1.5" ry="1.5" fill="#d3d3d3"/>
<rect x="123.00" y="306.10" width="11.00" height="29.70" rx="1.5" ry="1.5" fill="#1f72b9"/>
<rect x="242.30" y="306.10" width="10.90" height="29.70" rx="1.5" ry="1.5" fill="#ff0000"/>
<rect x="486.50" y="306.30" width="11.20" height="30.70" rx="1.5" ry="1.5" fill="#00bd00"/>
<g font-family="'Liberation Sans', sans-serif" font-size="12.6" font-weight="bold">
<text x="40.5" y="325.7" textLength="44.4" lengthAdjust="spacingAndGlyphs">No SAR</text>
<text x="136.4" y="326.3" textLength="69.1" lengthAdjust="spacingAndGlyphs">Postive SAR</text>
<text x="256.2" y="318.6" textLength="197.4" lengthAdjust="spacingAndGlyphs">The extinction rate was significantly</text>
<text x="256.2" y="332.8" textLength="175.8" lengthAdjust="spacingAndGlyphs">negative correlated with volume.</text>
<text x="502.2" y="311.0" textLength="149.2" lengthAdjust="spacingAndGlyphs">The extinction rate was not</text>
<text x="502.2" y="325.3" textLength="167.8" lengthAdjust="spacingAndGlyphs">significantly postive correlated</text>
<text x="502.2" y="339.5" textLength="70.8" lengthAdjust="spacingAndGlyphs">with volume.</text>
</g>
</g>
</svg>
</body></html>
